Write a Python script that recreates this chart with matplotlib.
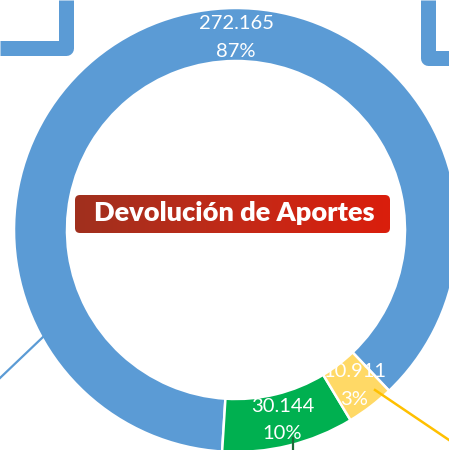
import numpy as np
import matplotlib
matplotlib.use('Agg')
import matplotlib.pyplot as plt
from matplotlib.patches import FancyBboxPatch
from matplotlib.colors import LinearSegmentedColormap

# data
labels = ['Aportes devueltos', 'Pendiente A', 'Pendiente B']
values = [272165, 30144, 10911]
colors = ['#5B9BD5', '#00B050', '#FFD966']
banner_text = 'Devolución de Aportes'

W, H = 449, 450
fig = plt.figure(figsize=(W / 100, H / 100), dpi=100)
ax = fig.add_axes([0, 0, 1, 1])

total = sum(values)


def fmt(pct):
    val = int(round(pct * total / 100.0))
    return '{:,}'.format(val).replace(',', '.') + '\n' + '{:.0f}%'.format(pct)


cx, cy, r = 236, H - 230, 222
wedges, texts, autotexts = ax.pie(
    values, colors=colors, startangle=-46.4, counterclock=True,
    radius=r, center=(cx, cy), autopct=fmt, pctdistance=0.88,
    wedgeprops=dict(width=53, edgecolor='white', linewidth=1.8),
    textprops=dict(color='white', fontsize=14.5, family='Lato', linespacing=1.75))

# big slice label sits at the top of the ring
autotexts[0].set_position((cx, cy + 0.868 * r))

# decorative frame corners
ax.plot([65.5, 65.5, 0], [H, H - 47.5, H - 47.5], color='#5B9BD5', lw=10.8,
        solid_joinstyle='round', solid_capstyle='butt')
ax.plot([427.5, 427.5, W], [H, H - 58, H - 58], color='#5B9BD5', lw=10.8,
        solid_joinstyle='round', solid_capstyle='butt')

# leader lines
ax.plot([43, 0], [H - 337, H - 378], color='#5B9BD5', lw=1.6)
ax.plot([375, W], [H - 390, H - 440], color='#FFC000', lw=1.8)
ax.plot([293, 293], [H - 438, 0], color='#1E6B3A', lw=1.6)

# banner
bx0, bx1, by0, by1 = 75, 390, H - 233, H - 195
box = FancyBboxPatch((bx0, by0), bx1 - bx0, by1 - by0,
                     boxstyle='round,pad=0,rounding_size=5',
                     fc='none', ec='none')
ax.add_patch(box)
grad = np.linspace(0, 1, 256).reshape(1, -1)
cmap = LinearSegmentedColormap.from_list('banner', ['#A0301E', '#C22A18', '#DA1E0C'])
im = ax.imshow(grad, extent=(bx0, bx1, by0, by1), cmap=cmap, aspect='auto', zorder=3)
im.set_clip_path(box)
ax.text((bx0 + bx1) / 2 + 2, (by0 + by1) / 2 + 1, banner_text, color='white',
        fontsize=19.5, fontweight='heavy', family='Lato',
        ha='center', va='center', zorder=4)

ax.set_xlim(0, W)
ax.set_ylim(0, H)
ax.set_aspect('equal')
ax.axis('off')

fig.savefig('out.png', dpi=100)
